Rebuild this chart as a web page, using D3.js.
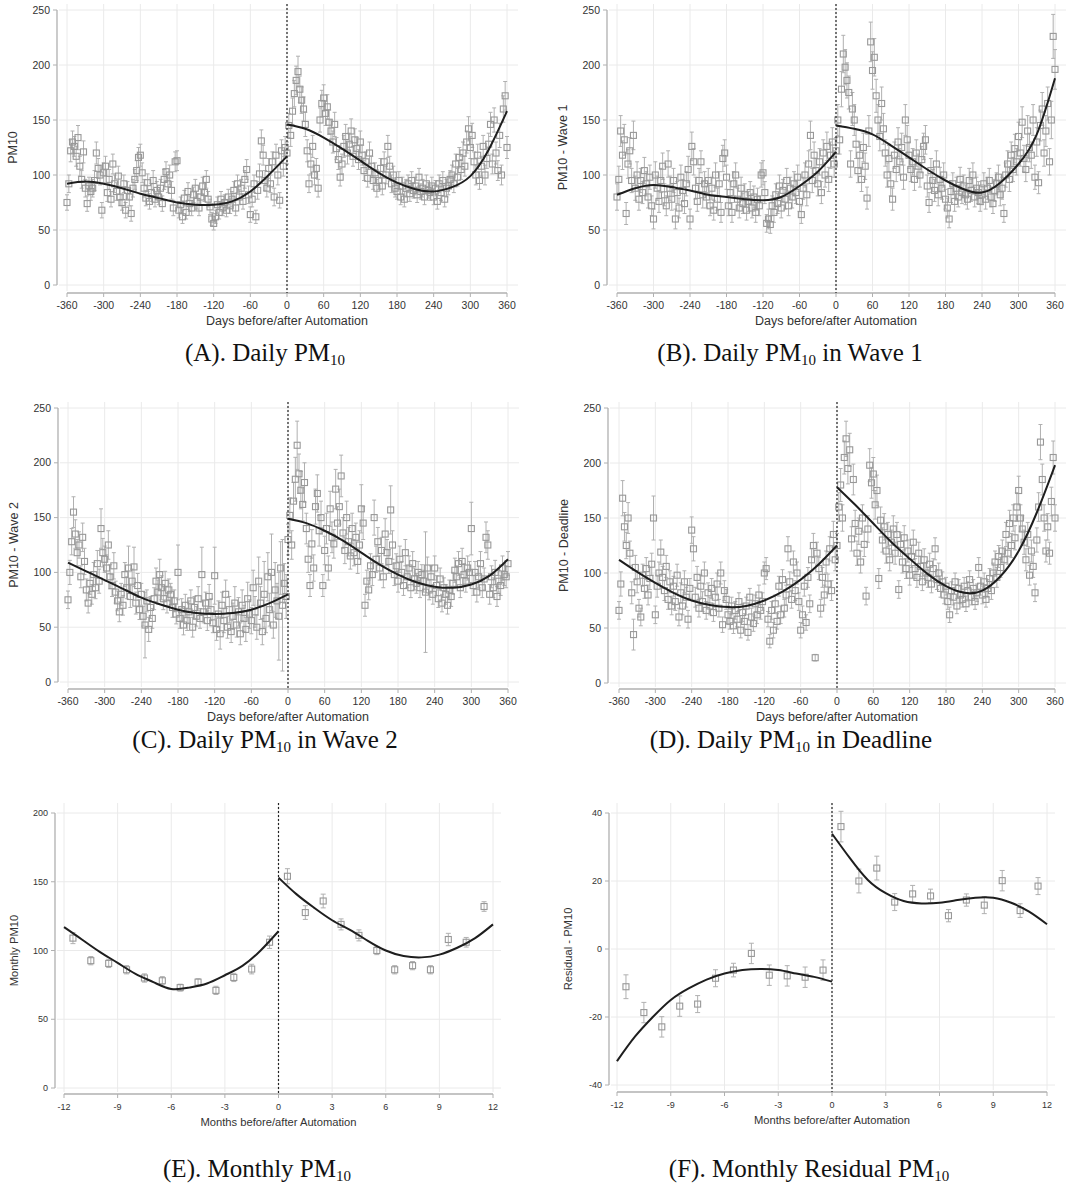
<!DOCTYPE html>
<html>
<head>
<meta charset="utf-8">
<script src="https://cdn.jsdelivr.net/npm/d3@7"></script>
<style>
  body { margin: 0; background: #fff; }
  svg text { font-family: Arial, "Liberation Sans", sans-serif; fill: #333; }
  svg text.cap { font-family: "Liberation Serif", "Times New Roman", serif; fill: #111; }
</style>
</head>
<body>
<svg id="chart" width="1067" height="1189"></svg>
<script>
// ---- data: daily panels, one value every 3 days from -360 to 360 (rows = 30 days)
var days = d3.range(-360, 361, 3);
var dayTicks = [-360, -300, -240, -180, -120, -60, 0, 60, 120, 180, 240, 300, 360];
var pmTicks = [0, 50, 100, 150, 200, 250];

var dailyA = [
  75, 92, 122, 130, 126, 117, 134, 108, 96, 121,
  88, 74, 90, 85, 88, 95, 120, 106, 100, 68,
  102, 108, 84, 96, 78, 110, 92, 85, 99, 80,
  75, 92, 68, 86, 80, 65, 88, 96, 104, 116,
  118, 102, 88, 79, 93, 76, 84, 95, 78, 86,
  80, 88, 74, 96, 103, 92, 100, 86, 70, 112,
  113, 68, 73, 62, 79, 66, 85, 74, 70, 82,
  88, 76, 70, 80, 90, 84, 96, 78, 71, 60,
  56, 62, 73, 66, 78, 70, 75, 68, 80, 72,
  78, 86, 70, 92, 80, 88, 76, 96, 105, 82,
  64, 78, 92, 62, 86, 101, 131, 118, 95, 88,
  106, 92, 112, 80, 118, 100, 77, 122, 108, 125,
  120, 145, 136, 158, 174, 186, 194, 178, 168, 160,
  146, 122, 92, 110, 126, 100, 106, 88, 150, 165,
  170, 156, 162, 148, 140, 130, 146, 124, 114, 98,
  110, 126, 135, 120, 128, 140, 117, 132, 124, 114,
  130, 118, 104, 112, 97, 120, 108, 95, 102, 88,
  95, 106, 90, 112, 100, 126, 108, 92, 100, 88,
  85, 95, 80, 90, 78, 88, 92, 83, 95, 86,
  90, 82, 98, 85, 88, 80, 92, 86, 84, 90,
  80, 88, 76, 92, 84, 95, 78, 88, 90, 96,
  100, 92, 110, 98, 116, 105, 120, 108, 130, 142,
  125, 136, 112, 100, 118, 95, 108, 126, 100, 115,
  128, 146, 110, 150, 120, 104, 136, 100, 160, 172,
  125
];
var seA = [
  7, 8, 10, 10, 9, 9, 11, 9, 8, 10,
  8, 7, 8, 8, 8, 9, 10, 9, 9, 7,
  9, 9, 8, 9, 7, 9, 8, 8, 9, 8,
  7, 8, 7, 8, 8, 7, 8, 9, 9, 9,
  10, 9, 8, 7, 8, 7, 8, 9, 7, 8,
  7, 8, 7, 9, 9, 8, 9, 8, 7, 9,
  9, 7, 7, 6, 7, 6, 8, 7, 7, 7,
  8, 7, 7, 7, 8, 8, 8, 7, 7, 6,
  6, 6, 7, 6, 7, 7, 7, 6, 7, 7,
  7, 8, 7, 8, 7, 8, 7, 8, 9, 8,
  7, 7, 8, 6, 8, 9, 10, 9, 9, 8,
  9, 8, 9, 8, 10, 9, 7, 10, 9, 10,
  10, 11, 10, 12, 12, 13, 14, 12, 12, 11,
  11, 10, 8, 9, 10, 9, 9, 8, 11, 12,
  12, 11, 11, 11, 10, 10, 11, 10, 9, 8,
  9, 10, 11, 10, 10, 11, 9, 10, 10, 9,
  10, 9, 9, 9, 8, 10, 9, 8, 9, 8,
  8, 9, 8, 9, 8, 10, 9, 8, 8, 8,
  7, 8, 7, 8, 7, 8, 8, 7, 8, 7,
  8, 7, 8, 7, 8, 7, 8, 7, 7, 8,
  7, 7, 7, 8, 7, 8, 7, 8, 8, 8,
  9, 8, 9, 8, 9, 9, 10, 9, 10, 11,
  10, 11, 9, 9, 10, 8, 9, 10, 9, 9,
  10, 11, 9, 11, 10, 9, 11, 9, 12, 13,
  10
];

var dailyB = [
  80, 96, 140, 118, 132, 65, 110, 122, 95, 136,
  88, 100, 78, 95, 84, 104, 92, 80, 98, 72,
  60, 100, 88, 76, 95, 108, 82, 72, 110, 88,
  78, 95, 60, 84, 70, 98, 86, 74, 92, 105,
  60, 126, 112, 88, 76, 95, 112, 82, 92, 80,
  95, 72, 88, 68, 100, 78, 92, 66, 115, 120,
  98, 72, 84, 66, 92, 100, 78, 70, 88, 74,
  82, 68, 76, 84, 70, 80, 66, 78, 72, 100,
  102, 84, 56, 60, 55, 72, 66, 82, 74, 90,
  70, 86, 78, 95, 72, 88, 80, 92, 84, 98,
  76, 64, 88, 100, 82, 110, 136, 95, 118, 104,
  92, 112, 84, 120, 100, 126, 96, 118, 130, 110,
  122, 150, 132, 178, 210, 198, 186, 175, 110, 160,
  150, 128, 104, 118, 96, 125, 108, 79, 140, 221,
  195, 207, 172, 150, 135, 165, 142, 120, 100, 115,
  92, 78, 118, 105, 130, 112, 125, 98, 150, 132,
  118, 105, 112, 96, 120, 108, 100, 114, 126, 132,
  90, 75, 104, 95, 86, 110, 82, 96, 88, 100,
  78, 70, 60, 85, 92, 76, 88, 80, 96, 84,
  90, 82, 78, 95, 86, 100, 80, 88, 84, 76,
  82, 92, 78, 88, 95, 80, 74, 86, 92, 98,
  82, 88, 65, 100, 110, 96, 118, 105, 124, 112,
  135, 120, 148, 115, 105, 140, 125, 118, 150, 98,
  130, 93, 145, 160, 120, 140, 165, 112, 150, 226,
  196
];
var seB = [
  12, 12, 14, 13, 14, 10, 13, 12, 11, 13,
  11, 12, 10, 11, 10, 12, 11, 10, 11, 9,
  9, 12, 11, 10, 11, 12, 10, 9, 12, 11,
  10, 11, 9, 10, 9, 11, 10, 9, 11, 12,
  9, 13, 12, 10, 9, 11, 10, 12, 11, 10,
  11, 9, 10, 9, 11, 10, 11, 9, 12, 12,
  11, 9, 10, 9, 11, 11, 10, 9, 10, 9,
  10, 9, 9, 10, 9, 10, 9, 10, 9, 11,
  11, 10, 8, 9, 8, 9, 9, 10, 9, 10,
  9, 10, 9, 11, 9, 10, 10, 11, 10, 11,
  9, 8, 10, 11, 10, 12, 13, 11, 12, 11,
  11, 12, 10, 12, 11, 13, 11, 12, 13, 12,
  12, 14, 13, 16, 17, 16, 16, 15, 12, 15,
  14, 13, 11, 12, 11, 13, 12, 10, 14, 18,
  17, 17, 15, 14, 13, 15, 14, 12, 11, 12,
  11, 10, 12, 11, 13, 12, 13, 11, 14, 13,
  12, 11, 12, 10, 12, 11, 11, 12, 12, 13,
  10, 9, 11, 10, 10, 12, 10, 11, 10, 11,
  9, 9, 8, 10, 10, 9, 10, 9, 11, 10,
  10, 9, 9, 11, 10, 11, 9, 10, 10, 9,
  9, 10, 9, 10, 11, 9, 9, 10, 10, 11,
  10, 10, 8, 11, 12, 11, 12, 11, 13, 12,
  13, 12, 14, 12, 11, 14, 13, 12, 14, 11,
  13, 10, 14, 15, 12, 14, 15, 12, 17, 20,
  18
];

var dailyC = [
  75, 100, 128, 155, 135, 118, 125, 96, 132, 110,
  84, 72, 90, 80, 98, 86, 108, 92, 140, 118,
  112, 104, 125, 96, 88, 106, 82, 74, 64, 80,
  70, 98, 86, 104, 78, 92, 105, 72, 88, 66,
  80, 60, 52, 74, 48, 68, 58, 76, 92, 82,
  98, 86, 76, 90, 72, 84, 80, 68, 74, 62,
  100, 58, 66, 52, 70, 56, 64, 74, 50, 68,
  60, 76, 58, 98, 64, 72, 56, 78, 66, 54,
  97, 48, 62, 44, 70, 56, 80, 50, 66, 46,
  60, 72, 52, 64, 44, 70, 58, 48, 76, 62,
  56, 86, 64, 50, 92, 72, 46, 80, 58, 96,
  66, 100, 52, 84, 74, 60, 104, 70, 90, 78,
  130, 152, 125, 165, 185, 216, 190, 175, 162, 182,
  140, 112, 88, 126, 104, 160, 172, 138, 150, 88,
  120, 140, 104, 158, 132, 126, 176, 145, 160, 188,
  136, 120, 150, 128, 115, 140, 118, 132, 110, 125,
  158, 145, 70, 92, 84, 106, 98, 150, 112, 128,
  104, 120, 96, 135, 118, 110, 157, 125, 98, 106,
  92, 112, 100, 88, 118, 96, 104, 86, 108, 94,
  90, 100, 86, 98, 92, 82, 104, 84, 96, 80,
  104, 88, 76, 94, 72, 86, 80, 70, 84, 78,
  90, 102, 96, 108, 86, 110, 98, 92, 104, 100,
  140, 88, 100, 82, 96, 108, 86, 94, 132, 125,
  80, 96, 86, 100, 78, 92, 88, 104, 98, 96,
  108
];
var seC = [
  8, 11, 12, 14, 13, 12, 12, 10, 13, 12,
  10, 9, 10, 9, 11, 10, 12, 11, 18, 13,
  12, 12, 13, 11, 10, 12, 10, 9, 9, 10,
  9, 11, 10, 20, 10, 11, 18, 10, 11, 9,
  10, 9, 30, 10, 11, 10, 9, 10, 12, 11,
  14, 11, 10, 11, 9, 10, 10, 9, 10, 9,
  25, 9, 10, 9, 10, 9, 10, 10, 9, 10,
  9, 11, 9, 25, 10, 10, 9, 11, 10, 9,
  26, 10, 12, 14, 12, 11, 13, 10, 12, 10,
  12, 15, 11, 13, 10, 14, 12, 11, 15, 13,
  12, 16, 14, 11, 22, 15, 12, 30, 13, 22,
  15, 35, 12, 25, 16, 40, 24, 60, 18, 20,
  14, 16, 13, 17, 20, 22, 18, 17, 15, 18,
  14, 12, 10, 13, 12, 16, 17, 14, 15, 10,
  13, 14, 11, 16, 14, 13, 18, 15, 16, 19,
  14, 12, 15, 13, 12, 14, 12, 13, 11, 13,
  22, 15, 10, 10, 9, 11, 10, 16, 12, 13,
  11, 12, 10, 14, 12, 11, 22, 13, 10, 11,
  10, 12, 10, 9, 12, 10, 11, 9, 11, 10,
  9, 10, 9, 9, 10, 55, 10, 9, 10, 9,
  11, 9, 8, 10, 8, 9, 9, 8, 9, 9,
  10, 11, 10, 11, 9, 12, 10, 10, 11, 10,
  24, 9, 10, 9, 10, 11, 9, 10, 14, 13,
  9, 10, 9, 11, 9, 10, 9, 11, 10, 10,
  11
];

var dailyD = [
  66, 90, 168, 142, 125, 150, 118, 82, 44, 105,
  92, 68, 60, 98, 86, 104, 80, 95, 108, 150,
  62, 88, 100, 119, 96, 84, 106, 76, 92, 70,
  88, 74, 98, 60, 82, 70, 92, 78, 58, 86,
  139, 122, 78, 96, 68, 88, 74, 100, 66, 82,
  70, 86, 64, 78, 90, 68, 100, 53, 84, 76,
  62, 56, 70, 52, 66, 58, 74, 48, 64, 56,
  70, 46, 78, 60, 54, 72, 62, 80, 66, 74,
  100, 104, 58, 38, 66, 48, 72, 56, 88, 62,
  94, 68, 80, 122, 92, 76, 110, 84, 100, 74,
  48, 62, 88, 55, 96, 72, 112, 125, 23, 118,
  104, 68, 96, 80, 110, 90, 122, 84, 135, 112,
  125, 160, 180, 150, 205, 222, 195, 212, 131, 185,
  145, 118, 138, 110, 150, 126, 79, 140, 198, 182,
  190, 162, 175, 95, 148, 130, 142, 120, 135, 112,
  128, 140, 118, 135, 85, 126, 110, 132, 104, 120,
  98, 115, 128, 104, 96, 118, 106, 92, 112, 100,
  96, 108, 90, 104, 122, 94, 100, 86, 92, 80,
  88, 74, 62, 84, 78, 92, 70, 86, 80, 76,
  88, 72, 84, 94, 78, 86, 74, 82, 105, 88,
  80, 92, 76, 86, 95, 84, 100, 110, 96, 115,
  105, 120, 112, 135, 118, 145, 125, 150, 132, 160,
  175, 150, 140, 128, 112, 135, 98, 120, 106, 82,
  130, 160, 219, 185, 150, 120, 142, 118, 165, 205,
  150
];
var seD = [
  8, 11, 16, 13, 12, 14, 11, 10, 14, 11,
  10, 8, 8, 10, 9, 10, 9, 10, 10, 20,
  8, 10, 10, 11, 10, 9, 10, 9, 10, 8,
  9, 8, 10, 8, 9, 8, 10, 9, 8, 9,
  12, 11, 9, 10, 8, 10, 9, 10, 8, 9,
  8, 9, 8, 9, 10, 8, 10, 7, 9, 9,
  8, 7, 8, 7, 8, 7, 8, 7, 8, 7,
  8, 7, 8, 8, 7, 8, 8, 9, 8, 8,
  10, 10, 7, 6, 8, 7, 8, 7, 9, 8,
  9, 8, 9, 11, 9, 8, 10, 9, 10, 8,
  7, 8, 9, 7, 9, 8, 10, 11, 3, 10,
  10, 8, 9, 9, 10, 9, 11, 9, 12, 10,
  11, 13, 15, 12, 15, 16, 14, 15, 11, 14,
  12, 11, 12, 10, 12, 11, 8, 12, 15, 14,
  15, 13, 14, 9, 12, 11, 12, 11, 11, 10,
  11, 12, 10, 11, 8, 11, 10, 11, 9, 10,
  9, 10, 11, 9, 9, 10, 9, 8, 10, 9,
  9, 10, 8, 9, 10, 9, 9, 8, 9, 8,
  8, 7, 7, 8, 7, 8, 7, 8, 8, 7,
  8, 7, 8, 8, 7, 8, 7, 8, 9, 8,
  8, 8, 7, 8, 9, 8, 9, 10, 9, 10,
  9, 10, 10, 11, 10, 12, 11, 12, 11, 13,
  13, 12, 12, 11, 10, 11, 9, 10, 10, 8,
  11, 13, 16, 14, 12, 10, 12, 10, 13, 15,
  12
];

// fitted curves, read every 30 days (pre: -360..0, post: 0..360)
var fitDaysPre = d3.range(-360, 1, 30);
var fitDaysPost = d3.range(0, 361, 30);
var fitA = { pre: [92, 94, 92, 88, 83, 79, 75, 73, 73, 76, 85, 100, 117],
             post: [146, 142, 134, 124, 113, 102, 93, 87, 85, 89, 99, 123, 158] };
var fitB = { pre: [82, 88, 91, 89, 86, 82, 80, 78, 77, 80, 90, 103, 121],
             post: [145, 142, 137, 127, 116, 105, 95, 87, 84, 93, 110, 137, 188] };
var fitC = { pre: [109, 101, 93, 85, 77, 71, 66, 63, 62, 63, 66, 72, 80],
             post: [149, 145, 138, 129, 118, 107, 98, 91, 87, 86, 89, 97, 112] };
var fitD = { pre: [112, 101, 91, 82, 75, 71, 69, 70, 75, 83, 94, 108, 125],
             post: [178, 162, 145, 128, 113, 99, 88, 82, 84, 97, 120, 155, 198] };

// ---- data: monthly panels
var months = d3.range(-11.5, 12, 1);
var monthTicks = [-12, -9, -6, -3, 0, 3, 6, 9, 12];
var monthlyE = [109, 92.6, 90.6, 86, 80, 78, 73, 77, 71, 80.4, 86.5, 106,
                154, 127.6, 136, 119, 111, 100, 86, 89, 86, 108, 106, 132];
var seE = [4, 3, 3, 3, 3, 3, 2.5, 2.5, 3, 3, 3.5, 4.5,
           5.5, 5, 5, 4, 4, 3, 3, 3, 3, 4.5, 3.5, 3.5];
var monthlyF = [-11.1, -18.7, -22.9, -16.8, -16.2, -8.6, -6.2, -1.3, -7.7, -7.9, -8.3, -6.2,
                36, 20, 23.8, 13.8, 16.2, 15.6, 9.8, 14.4, 12.9, 20.1, 11.3, 18.5];
var seF = [3.5, 3, 3, 3, 2.5, 2.5, 2, 3, 3, 3, 3, 3,
           4.5, 3.5, 3.5, 2.5, 2.5, 2, 1.8, 1.8, 2.5, 3, 2, 2.5];
var fitMonthsPre = d3.range(-12, 1, 1);
var fitMonthsPost = d3.range(0, 13, 1);
var fitE = { pre: [117, 108, 99, 91, 83, 77, 72, 73, 76, 82, 89, 100, 114],
             post: [153, 141, 131, 122, 115, 107, 100, 96, 95, 97, 102, 109, 119] };
var fitF = { pre: [-33, -25.8, -20, -15, -11.6, -9, -7.2, -6.2, -5.9, -6.2, -7.2, -8.2, -9.6],
             post: [33.9, 26.7, 20.3, 16.4, 14.1, 13.4, 13.6, 14.4, 15.1, 15.1, 13.6, 11, 7.3] };

var svg = d3.select("#chart");

function drawPanel(p) {
  var x = d3.scaleLinear().domain(p.xDomain).range(p.xRange);
  var y = d3.scaleLinear().domain(p.yDomain).range(p.yRange);
  var g = svg.append("g");
  var top = p.yRange[1] - p.pad, right = p.xRange[1] + p.padR;

  // grid
  g.selectAll(".hg").data(p.yTicks).enter().append("line")
    .attr("x1", p.yAxisX + 2).attr("x2", right)
    .attr("y1", function(d) { return y(d); }).attr("y2", function(d) { return y(d); })
    .attr("stroke", "#eaeaea").attr("stroke-width", 1);
  g.selectAll(".vg").data(p.xTicks).enter().append("line")
    .attr("x1", function(d) { return x(d); }).attr("x2", function(d) { return x(d); })
    .attr("y1", top).attr("y2", p.xAxisY - 2)
    .attr("stroke", "#eaeaea").attr("stroke-width", 1);

  // axes
  g.append("line").attr("x1", p.yAxisX).attr("x2", p.yAxisX)
    .attr("y1", y(p.yDomain[0])).attr("y2", y(p.yDomain[1]))
    .attr("stroke", "#b0b0b0").attr("stroke-width", 1.3);
  g.append("line").attr("x1", x(p.xDomain[0])).attr("x2", x(p.xDomain[1]))
    .attr("y1", p.xAxisY).attr("y2", p.xAxisY)
    .attr("stroke", "#b0b0b0").attr("stroke-width", 1.3);
  g.selectAll(".yt").data(p.yTicks).enter().append("line")
    .attr("x1", p.yAxisX - 4).attr("x2", p.yAxisX)
    .attr("y1", function(d) { return y(d); }).attr("y2", function(d) { return y(d); })
    .attr("stroke", "#b0b0b0");
  g.selectAll(".xt").data(p.xTicks).enter().append("line")
    .attr("x1", function(d) { return x(d); }).attr("x2", function(d) { return x(d); })
    .attr("y1", p.xAxisY).attr("y2", p.xAxisY + 4)
    .attr("stroke", "#b0b0b0");
  g.selectAll(".yl").data(p.yTicks).enter().append("text")
    .attr("x", p.yAxisX - 7).attr("y", function(d) { return y(d) + p.tick * 0.35; })
    .attr("text-anchor", "end").attr("font-size", p.tick).text(function(d) { return d; });
  g.selectAll(".xl").data(p.xTicks).enter().append("text")
    .attr("x", function(d) { return x(d); }).attr("y", p.xAxisY + 16)
    .attr("text-anchor", "middle").attr("font-size", p.tick).text(function(d) { return d; });
  g.append("text").attr("x", (p.xRange[0] + p.xRange[1]) / 2).attr("y", p.xAxisY + 32)
    .attr("text-anchor", "middle").attr("font-size", p.title).text(p.xTitle);
  var ty = (y(p.yDomain[0]) + y(p.yDomain[1])) / 2;
  g.append("text").attr("transform", "translate(" + (p.yAxisX - p.titleOff) + "," + ty + ") rotate(-90)")
    .attr("text-anchor", "middle").attr("font-size", p.title).text(p.yTitle);

  // points with error bars
  var pts = p.xs.map(function(d, i) { return {x: d, v: p.vals[i], se: p.se[i]}; });
  var cw = p.cap / 2, ms = p.marker;
  var eb = g.append("g").attr("stroke", "#b0b0b0").attr("stroke-width", 1);
  pts.forEach(function(d) {
    var cx = x(d.x), lo = y(d.v - d.se), hi = y(d.v + d.se);
    eb.append("line").attr("x1", cx).attr("x2", cx).attr("y1", lo).attr("y2", hi);
    eb.append("line").attr("x1", cx - cw).attr("x2", cx + cw).attr("y1", lo).attr("y2", lo);
    eb.append("line").attr("x1", cx - cw).attr("x2", cx + cw).attr("y1", hi).attr("y2", hi);
  });
  g.append("g").selectAll("rect").data(pts).enter().append("rect")
    .attr("x", function(d) { return x(d.x) - ms / 2; })
    .attr("y", function(d) { return y(d.v) - ms / 2; })
    .attr("width", ms).attr("height", ms)
    .attr("fill", "none").attr("stroke", "#989898").attr("stroke-width", 1.1);

  // cutoff line
  g.append("line").attr("x1", x(0)).attr("x2", x(0)).attr("y1", top).attr("y2", p.xAxisY)
    .attr("stroke", "#222").attr("stroke-width", 1.2).attr("stroke-dasharray", "2,2");

  // fit
  var line = d3.line().x(function(d) { return x(d[0]); }).y(function(d) { return y(d[1]); })
    .curve(d3.curveNatural);
  [[p.fitXPre, p.fit.pre], [p.fitXPost, p.fit.post]].forEach(function(s) {
    g.append("path").datum(s[0].map(function(d, i) { return [d, s[1][i]]; }))
      .attr("d", line).attr("fill", "none").attr("stroke", "#1e1e1e").attr("stroke-width", 2);
  });
}

function caption(cx, cy, pre, post) {
  var t = svg.append("text").attr("class", "cap").attr("x", cx).attr("y", cy)
    .attr("text-anchor", "middle").attr("font-size", 25);
  t.append("tspan").text(pre + "PM");
  t.append("tspan").attr("font-size", 15).attr("dy", 4).text("10");
  if (post) t.append("tspan").attr("dy", -4).text(post);
}

var daily = { xDomain: [-360, 360], yDomain: [0, 250], xTicks: dayTicks, yTicks: pmTicks,
  xs: days, fitXPre: fitDaysPre, fitXPost: fitDaysPost, tick: 10.5, title: 12.5, titleOff: 40,
  pad: 6, padR: 11, cap: 4, marker: 6, xTitle: "Days before/after Automation" };

drawPanel(Object.assign({}, daily, { xRange: [67, 507], yRange: [285, 10], yAxisX: 57, xAxisY: 293,
  vals: dailyA, se: seA, fit: fitA, yTitle: "PM10" }));
drawPanel(Object.assign({}, daily, { xRange: [617, 1055], yRange: [285, 10], yAxisX: 607, xAxisY: 293,
  vals: dailyB, se: seB, fit: fitB, yTitle: "PM10 - Wave 1" }));
drawPanel(Object.assign({}, daily, { xRange: [68, 508], yRange: [682, 408], yAxisX: 58, xAxisY: 689,
  vals: dailyC, se: seC, fit: fitC, yTitle: "PM10 - Wave 2" }));
drawPanel(Object.assign({}, daily, { xRange: [619, 1055], yRange: [683, 408], yAxisX: 608, xAxisY: 689,
  vals: dailyD, se: seD, fit: fitD, yTitle: "PM10 - Deadline" }));

var monthly = { xDomain: [-12, 12], xTicks: monthTicks, xs: months,
  fitXPre: fitMonthsPre, fitXPost: fitMonthsPost, tick: 9, title: 11.2, titleOff: 37,
  pad: 10, padR: 8, cap: 5, marker: 6, xTitle: "Months before/after Automation" };

drawPanel(Object.assign({}, monthly, { xRange: [64, 493], yRange: [1088, 813], yAxisX: 55, xAxisY: 1094,
  yDomain: [0, 200], yTicks: [0, 50, 100, 150, 200],
  vals: monthlyE, se: seE, fit: fitE, yTitle: "Monthly PM10" }));
drawPanel(Object.assign({}, monthly, { xRange: [617, 1047], yRange: [1085, 813], yAxisX: 609, xAxisY: 1092,
  yDomain: [-40, 40], yTicks: [-40, -20, 0, 20, 40],
  vals: monthlyF, se: seF, fit: fitF, yTitle: "Residual - PM10" }));

caption(265, 361, "(A). Daily ", "");
caption(790, 361, "(B). Daily ", " in Wave 1");
caption(265, 748, "(C). Daily ", " in Wave 2");
caption(791, 748, "(D). Daily ", " in Deadline");
caption(257, 1177, "(E). Monthly ", "");
caption(809, 1177, "(F). Monthly Residual ", "");
</script>
</body>
</html>
